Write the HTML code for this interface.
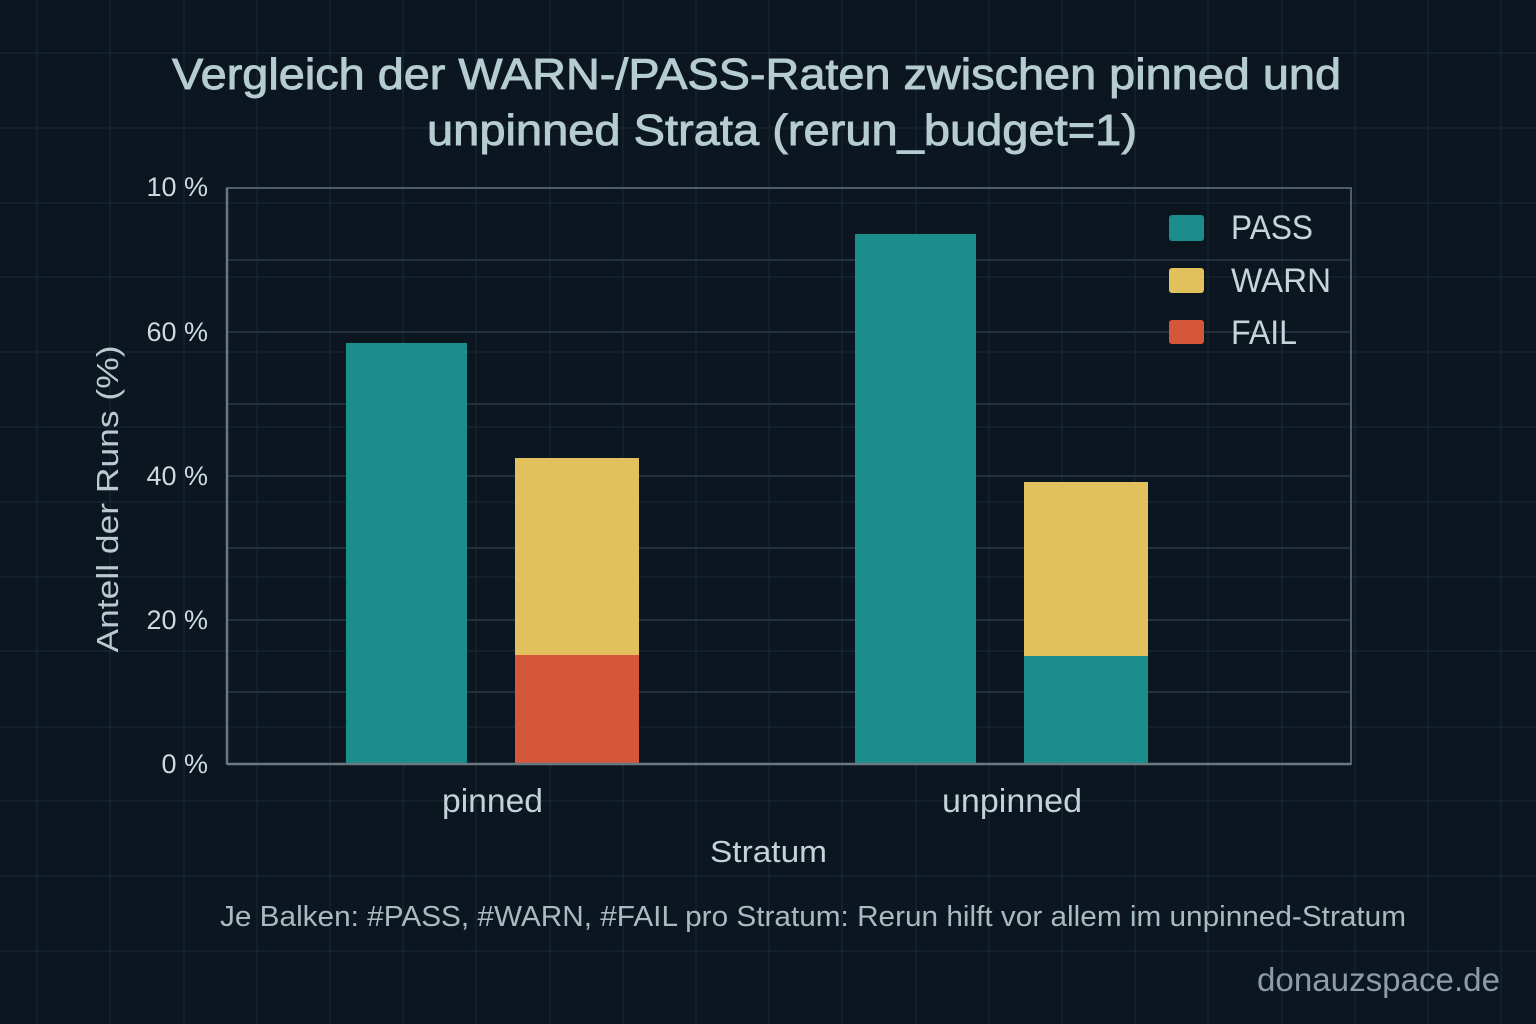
<!DOCTYPE html>
<html><head><meta charset="utf-8"><style>
html,body{margin:0;padding:0;background:#0b1620;}
svg{display:block;}
text{font-family:"Liberation Sans","DejaVu Sans",sans-serif;}
</style></head><body>
<svg width="1536" height="1024" viewBox="0 0 1536 1024" xmlns="http://www.w3.org/2000/svg">
<rect width="1536" height="1024" fill="#0b1620"/>
<g stroke="#1a2833" stroke-width="1.2" opacity="0.9">
<line x1="0" y1="53" x2="1536" y2="53"/><line x1="0" y1="128" x2="1536" y2="128"/><line x1="0" y1="203" x2="1536" y2="203"/><line x1="0" y1="277" x2="1536" y2="277"/><line x1="0" y1="352" x2="1536" y2="352"/><line x1="0" y1="427" x2="1536" y2="427"/><line x1="0" y1="502" x2="1536" y2="502"/><line x1="0" y1="577" x2="1536" y2="577"/><line x1="0" y1="651" x2="1536" y2="651"/><line x1="0" y1="727" x2="1536" y2="727"/><line x1="0" y1="801" x2="1536" y2="801"/><line x1="0" y1="876" x2="1536" y2="876"/><line x1="0" y1="951" x2="1536" y2="951"/>
<line x1="37" y1="0" x2="37" y2="1024"/><line x1="110" y1="0" x2="110" y2="1024"/><line x1="184" y1="0" x2="184" y2="1024"/><line x1="257" y1="0" x2="257" y2="1024"/><line x1="330" y1="0" x2="330" y2="1024"/><line x1="403" y1="0" x2="403" y2="1024"/><line x1="476" y1="0" x2="476" y2="1024"/><line x1="550" y1="0" x2="550" y2="1024"/><line x1="623" y1="0" x2="623" y2="1024"/><line x1="696" y1="0" x2="696" y2="1024"/><line x1="769" y1="0" x2="769" y2="1024"/><line x1="842" y1="0" x2="842" y2="1024"/><line x1="916" y1="0" x2="916" y2="1024"/><line x1="989" y1="0" x2="989" y2="1024"/><line x1="1062" y1="0" x2="1062" y2="1024"/><line x1="1135" y1="0" x2="1135" y2="1024"/><line x1="1208" y1="0" x2="1208" y2="1024"/><line x1="1282" y1="0" x2="1282" y2="1024"/><line x1="1355" y1="0" x2="1355" y2="1024"/><line x1="1428" y1="0" x2="1428" y2="1024"/><line x1="1501" y1="0" x2="1501" y2="1024"/>
</g>
<!-- plot gridlines -->
<g stroke="#22313c" stroke-width="2">
<line x1="227" y1="260" x2="1351" y2="260"/><line x1="227" y1="332" x2="1351" y2="332"/><line x1="227" y1="404" x2="1351" y2="404"/><line x1="227" y1="476" x2="1351" y2="476"/><line x1="227" y1="548" x2="1351" y2="548"/><line x1="227" y1="620" x2="1351" y2="620"/><line x1="227" y1="692" x2="1351" y2="692"/>
</g>
<!-- bars -->
<rect x="346" y="343" width="121" height="421" fill="#1b8e8c"/>
<rect x="515" y="458" width="124" height="197" fill="#e1c15b"/>
<rect x="515" y="655" width="124" height="109" fill="#d4563b"/>
<rect x="855" y="234" width="121" height="530" fill="#1b8e8c"/>
<rect x="1024" y="482" width="124" height="174" fill="#e1c15b"/>
<rect x="1024" y="656" width="124" height="108" fill="#1b8e8c"/>
<!-- axes frame -->
<rect x="227" y="188" width="1124" height="576" fill="none" stroke="#4f5d66" stroke-width="2"/>
<line x1="227" y1="764" x2="1351" y2="764" stroke="#6a7880" stroke-width="2.5"/>
<line x1="227" y1="188" x2="227" y2="764" stroke="#6a7880" stroke-width="2.5"/>
<!-- title -->
<g fill="#b6cdd0" stroke="#b6cdd0" stroke-width="0.9" font-size="44" text-anchor="start">
<text x="172" y="89" textLength="1169" lengthAdjust="spacingAndGlyphs">Vergleich der WARN-/PASS-Raten zwischen pinned und</text>
<text x="427" y="145" textLength="710" lengthAdjust="spacingAndGlyphs">unpinned Strata (rerun_budget=1)</text>
</g>
<!-- y ticks -->
<g fill="#ccdadd" font-size="27" text-anchor="end">
<text x="208" y="196">10 %</text>
<text x="208" y="341">60 %</text>
<text x="208" y="485">40 %</text>
<text x="208" y="629">20 %</text>
<text x="208" y="773">0 %</text>
</g>
<text transform="translate(118,499) rotate(-90)" text-anchor="middle" fill="#b9cbcf" font-size="31" textLength="307" lengthAdjust="spacingAndGlyphs">Antell der Runs (%)</text>
<!-- x labels -->
<g fill="#c2d4d7" font-size="33">
<text x="442" y="812" textLength="101" lengthAdjust="spacingAndGlyphs">pinned</text>
<text x="942" y="812" textLength="140" lengthAdjust="spacingAndGlyphs">unpinned</text>
<text x="710" y="862" font-size="31" textLength="117" lengthAdjust="spacingAndGlyphs">Stratum</text>
</g>
<!-- legend -->
<rect x="1169" y="215" width="35" height="26" rx="3" fill="#1b8e8c"/>
<rect x="1169" y="268" width="35" height="25" rx="3" fill="#e1c15b"/>
<rect x="1169" y="320" width="35" height="24" rx="3" fill="#d4563b"/>
<g fill="#c5d6d9" font-size="34">
<text x="1231" y="239" textLength="82" lengthAdjust="spacingAndGlyphs">PASS</text>
<text x="1231" y="292" textLength="100" lengthAdjust="spacingAndGlyphs">WARN</text>
<text x="1231" y="344" textLength="66" lengthAdjust="spacingAndGlyphs">FAIL</text>
</g>
<!-- caption -->
<text x="220" y="926" fill="#a8bbbf" font-size="29" textLength="1186" lengthAdjust="spacingAndGlyphs">Je Balken: #PASS, #WARN, #FAIL pro Stratum: Rerun hilft vor allem im unpinned-Stratum</text>
<text x="1257" y="991" fill="#8c9da5" font-size="33" textLength="243" lengthAdjust="spacingAndGlyphs">donauzspace.de</text>
</svg>
</body></html>
